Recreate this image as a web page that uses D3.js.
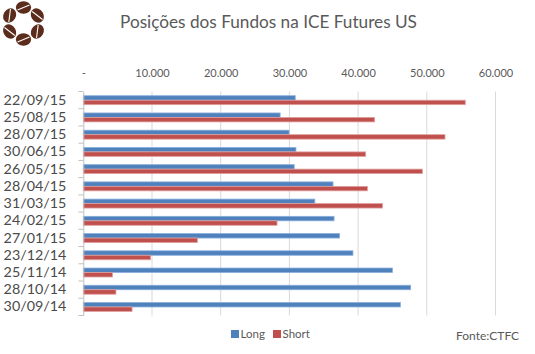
<!DOCTYPE html>
<html><head><meta charset="utf-8">
<script src="https://cdn.jsdelivr.net/npm/d3@7"></script>
<style>html,body{margin:0;padding:0;background:#fff;}svg{display:block;}</style>
</head><body>
<script>
const categories = ["22/09/15","25/08/15","28/07/15","30/06/15","26/05/15","28/04/15","31/03/15","24/02/15","27/01/15","23/12/14","25/11/14","28/10/14","30/09/14"];
const longValues  = [30850,28650,29950,30950,30700,36350,33700,36500,37300,39250,45000,47650,46150];
const shortValues = [55600,42400,52650,41100,49350,41350,43550,28200,16600,9800,4250,4750,7100];
const seriesNames = ["Long","Short"];
const seriesColors = ["#4F81BD","#C0504D"];
const seriesStrokes = ["#8AAEDC","#E0A09E"];
const tickValues = [0,10000,20000,30000,40000,50000,60000];
const tickLabels = ["-","10.000","20.000","30.000","40.000","50.000","60.000"];

const W=535,H=354;
const font="Lato, 'Open Sans', sans-serif";
const svg=d3.select("body").append("svg").attr("width",W).attr("height",H);

// logo
const logo=svg.append("g").attr("transform","translate(23.5,23.5)");
for(let i=0;i<6;i++){
  const a=-90+i*60;
  const g=logo.append("g").attr("transform",`rotate(${a}) translate(16,0) rotate(90)`);
  g.append("ellipse").attr("rx",7.6).attr("ry",6.2).attr("fill","#5B2B1C");
  g.append("line").attr("x1",-6).attr("y1",2.5).attr("x2",6).attr("y2",-2.5).attr("stroke","#fff").attr("stroke-width",1.1);
}

svg.append("text").attr("x",268.5).attr("y",28).attr("text-anchor","middle")
  .attr("font-family",font).attr("font-size",17.2).attr("fill","#595959")
  .text("Posições dos Fundos na ICE Futures US");

const x=d3.scaleLinear().domain([0,60000]).range([83.3,495.5]);
const y=d3.scaleBand().domain(categories).range([91.5,315.5]);
const ys=d3.scaleBand().domain(seriesNames).range([y.bandwidth()*0.245,y.bandwidth()*0.765]);

// gridlines
svg.append("g").selectAll("line").data(tickValues.slice(1)).join("line")
  .attr("x1",d=>x(d)).attr("x2",d=>x(d)).attr("y1",91.5).attr("y2",315.5)
  .attr("stroke","#D9D9D9").attr("stroke-width",1);

// top tick labels
const xa=svg.append("g").attr("transform","translate(0,77)")
  .call(d3.axisTop(x).tickValues(tickValues).tickFormat((d,i)=>tickLabels[i]).tickSize(0).tickPadding(0));
xa.select(".domain").remove();
xa.selectAll("text").attr("font-family",font).attr("font-size",11).attr("fill","#595959");

// bars
const data=categories.map((c,i)=>({c,vals:[longValues[i],shortValues[i]]}));
const rows=svg.append("g").selectAll("g").data(data).join("g").attr("transform",d=>`translate(0,${y(d.c)})`);
rows.selectAll("rect").data(d=>d.vals.map((v,j)=>({v,s:seriesNames[j],j}))).join("rect")
  .attr("x",x(0)).attr("y",d=>ys(d.s)).attr("width",d=>x(d.v)-x(0)).attr("height",ys.bandwidth())
  .attr("fill",d=>seriesColors[d.j]).attr("stroke",d=>seriesStrokes[d.j]).attr("stroke-width",0.8);

// left axis
const ya=svg.append("g").attr("transform","translate(83.3,0)")
  .call(d3.axisLeft(y).tickSize(0).tickPadding(17));
ya.select(".domain").attr("stroke","#BFBFBF");
ya.selectAll("text").attr("font-family",font).attr("font-size",14.3).attr("fill","#4A4A4A");
// boundary ticks
const bounds=d3.range(categories.length+1).map(i=>91.5+i*y.step());
svg.append("g").selectAll("line").data(bounds).join("line")
  .attr("x1",78.5).attr("x2",83.3).attr("y1",d=>d).attr("y2",d=>d).attr("stroke","#BFBFBF");

// legend
const lg=svg.append("g").attr("transform","translate(231,330)");
const items=[{n:"Long",c:seriesColors[0],x:0},{n:"Short",c:seriesColors[1],x:42}];
items.forEach(it=>{
  lg.append("rect").attr("x",it.x).attr("y",0).attr("width",8).attr("height",8).attr("fill",it.c);
  lg.append("text").attr("x",it.x+9.5).attr("y",7.8).attr("font-family",font).attr("font-size",11.5).attr("fill","#595959").text(it.n);
});

svg.append("text").attr("x",456).attr("y",340).attr("font-family",font).attr("font-size",12).attr("fill","#595959").text("Fonte:CTFC");
</script>
</body></html>
